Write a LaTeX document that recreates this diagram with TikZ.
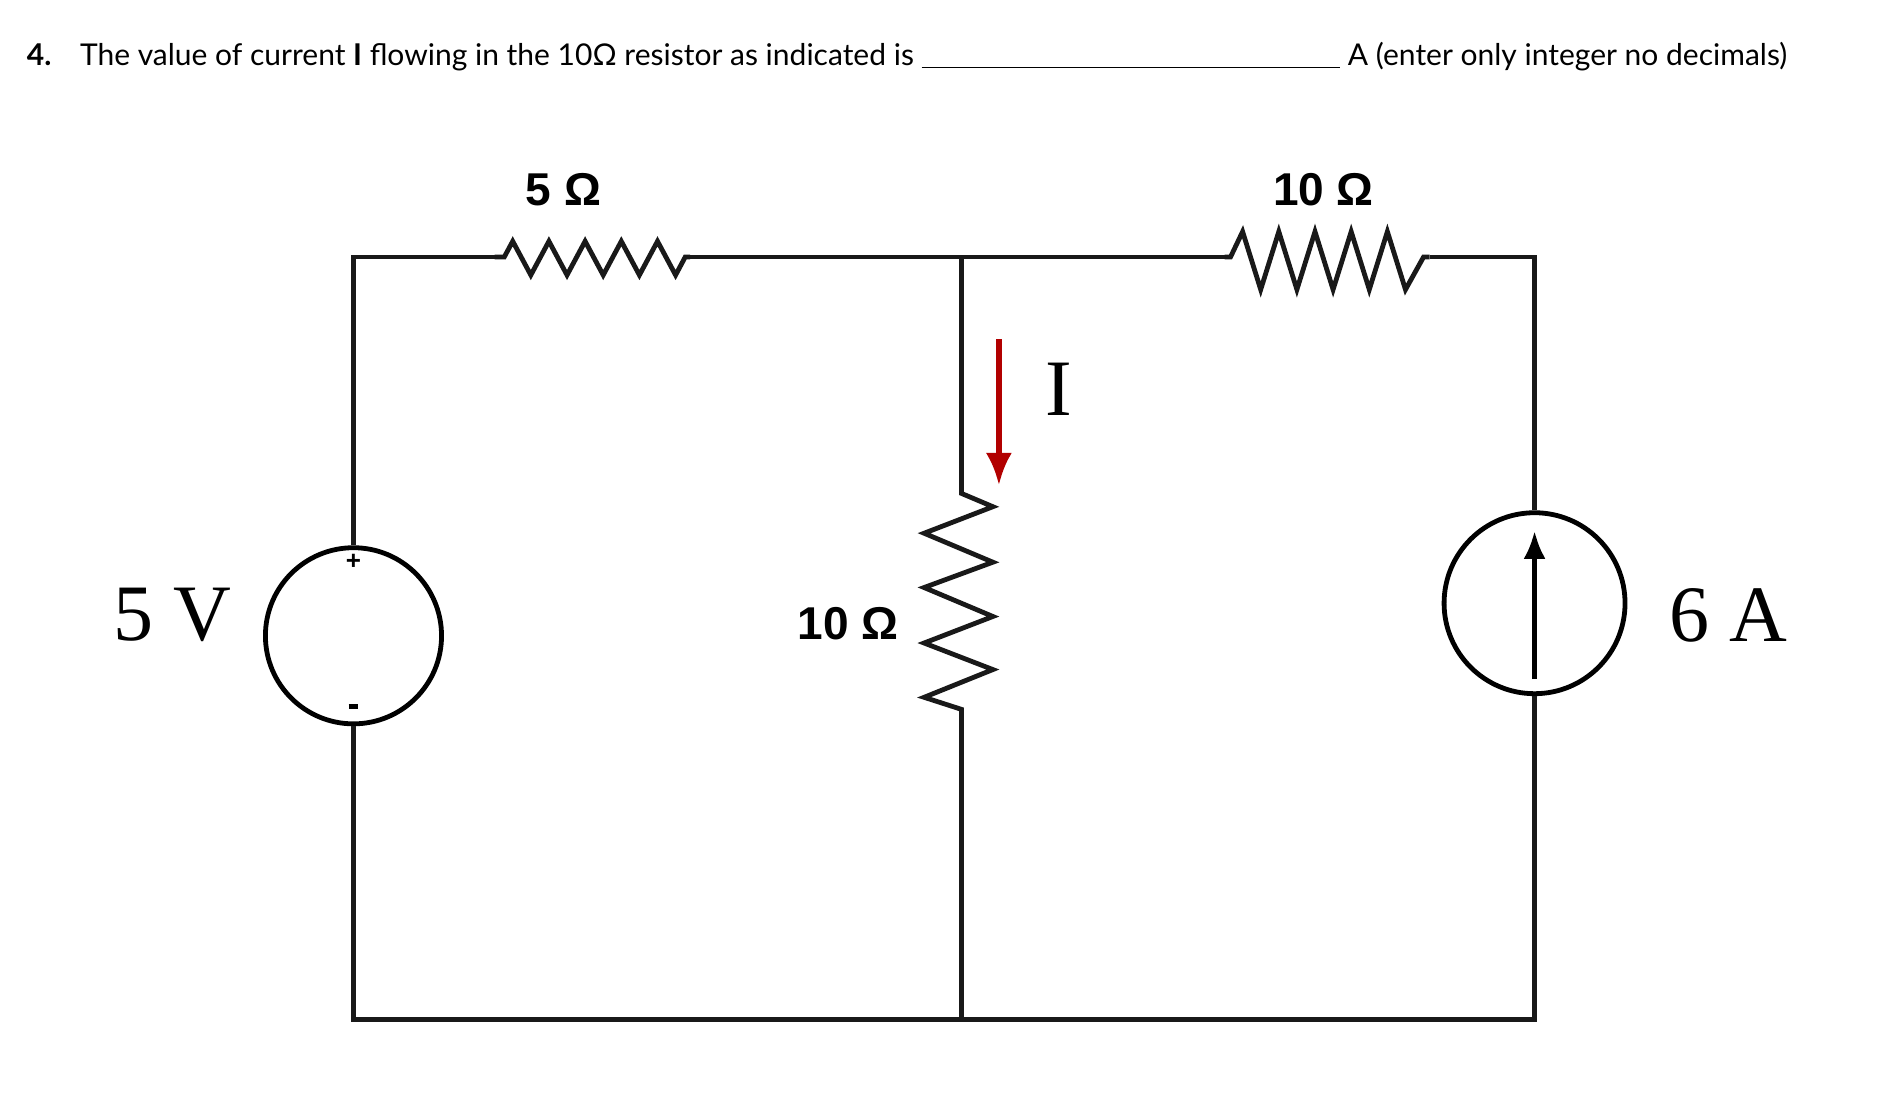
\documentclass[tikz,border=0pt]{standalone}
\usepackage{fontspec}
\usetikzlibrary{arrows.meta}
\setmainfont{Liberation Serif}
\newfontfamily\hdr{Lato}
\newfontfamily\lab{Liberation Sans}
\begin{document}
\begin{tikzpicture}[x=0.603pt,y=-0.603pt,
  wire/.style={line width=2.4pt,black!90},
  hd/.style={anchor=base west,inner sep=0pt,font=\hdr\fontsize{15}{18}\selectfont},
  rl/.style={font=\lab\bfseries\fontsize{23}{26}\selectfont,inner sep=0pt},
  sl/.style={font=\fontsize{40}{44}\selectfont,inner sep=0pt}]
\useasboundingbox (0,0) rectangle (1560,914);
% header
\node[hd] (num) at (22,54) {\textbf{4.}};
\node[hd] (q) at (66,54) {The value of current \textbf{I} flowing in the 10Ω resistor as indicated is};
\coordinate (ua) at (764,56);
\coordinate (ub) at (1111,56);
\draw[line width=0.8pt] (ua) -- (ub);
\node[hd] (q2) at (1117,54) {A (enter only integer no decimals)};
% nodes
\coordinate (tl) at (293,213);
\coordinate (tm) at (797,213);
\coordinate (tr) at (1272,213);
\coordinate (bl) at (293,845);
\coordinate (bm) at (797,845);
\coordinate (br) at (1272,845);
\coordinate (r1a) at (410,213);
\coordinate (r1b) at (572,213);
\coordinate (r2a) at (1015,213);
\coordinate (r2b) at (1185,213);
\coordinate (r3a) at (797,409);
\coordinate (r3b) at (797,588);
\node[circle,draw,line width=2.4pt,minimum size=146*0.603pt,inner sep=0pt] (vs) at (293,527) {};
\node[circle,draw,line width=2.4pt,minimum size=150*0.603pt,inner sep=0pt] (cs) at (1272,500) {};
% wires
\draw[wire] (vs.north) -- (tl) -- (r1a);
\draw[wire] (r1a) -- ++(8,0) -- (425,200) -- (440,228) -- (455,200) -- (470,228) -- (485,200) -- (500,228) -- (515,200) -- (530,228) -- (545,200) -- (560,228) -- (568,213) -- (r1b);
\draw[wire] (r1b) -- (tm) -- (r2a);
\draw[wire] (r2a) -- (1020,213) -- (1030,192) -- (1045,240) -- (1060,192) -- (1075,240) -- (1090,192) -- (1105,240) -- (1120,192) -- (1135,240) -- (1150,192) -- (1165,240) -- (1180,213) -- (r2b);
\draw[wire] (r2b) -- (tr) -- (cs.north);
\draw[wire] (tm) -- (r3a) -- (823,420) -- (766,442) -- (823,466) -- (766,487) -- (823,511) -- (766,533) -- (823,555) -- (766,578) -- (r3b) -- (bm);
\draw[wire] (vs.south) -- (bl) -- (bm) -- (br) -- (cs.south);
% source marks
\node[font=\lab\bfseries\fontsize{13}{13}\selectfont,inner sep=0pt] (plus) at (293,466) {+};
\coordinate (ma) at (289,586);
\coordinate (mb) at (297,586);
\draw[line width=2.5pt] (ma) -- (mb);
\coordinate (ca) at (1272,563);
\coordinate (cb) at (1272,440);
\draw[line width=2.4pt,-{Latex[length=14pt,width=11pt]}] (ca) -- (cb);
% current arrow
\coordinate (ia) at (828,281);
\coordinate (ib) at (828,402);
\draw[line width=2.6pt,color=red!70!black,-{Latex[length=16pt,width=13pt]}] (ia) -- (ib);
% labels
\node[sl] (lI) at (878,323) {I};
\node[rl] (l1) at (467,157) {5 Ω};
\node[rl] (l2) at (1097,157) {10 Ω};
\node[rl] (l3) at (703,517) {10 Ω};
\node[sl] (l4) at (143,510) {5 V};
\node[sl] (l5) at (1433,510) {6 A};
\end{tikzpicture}
\end{document}
